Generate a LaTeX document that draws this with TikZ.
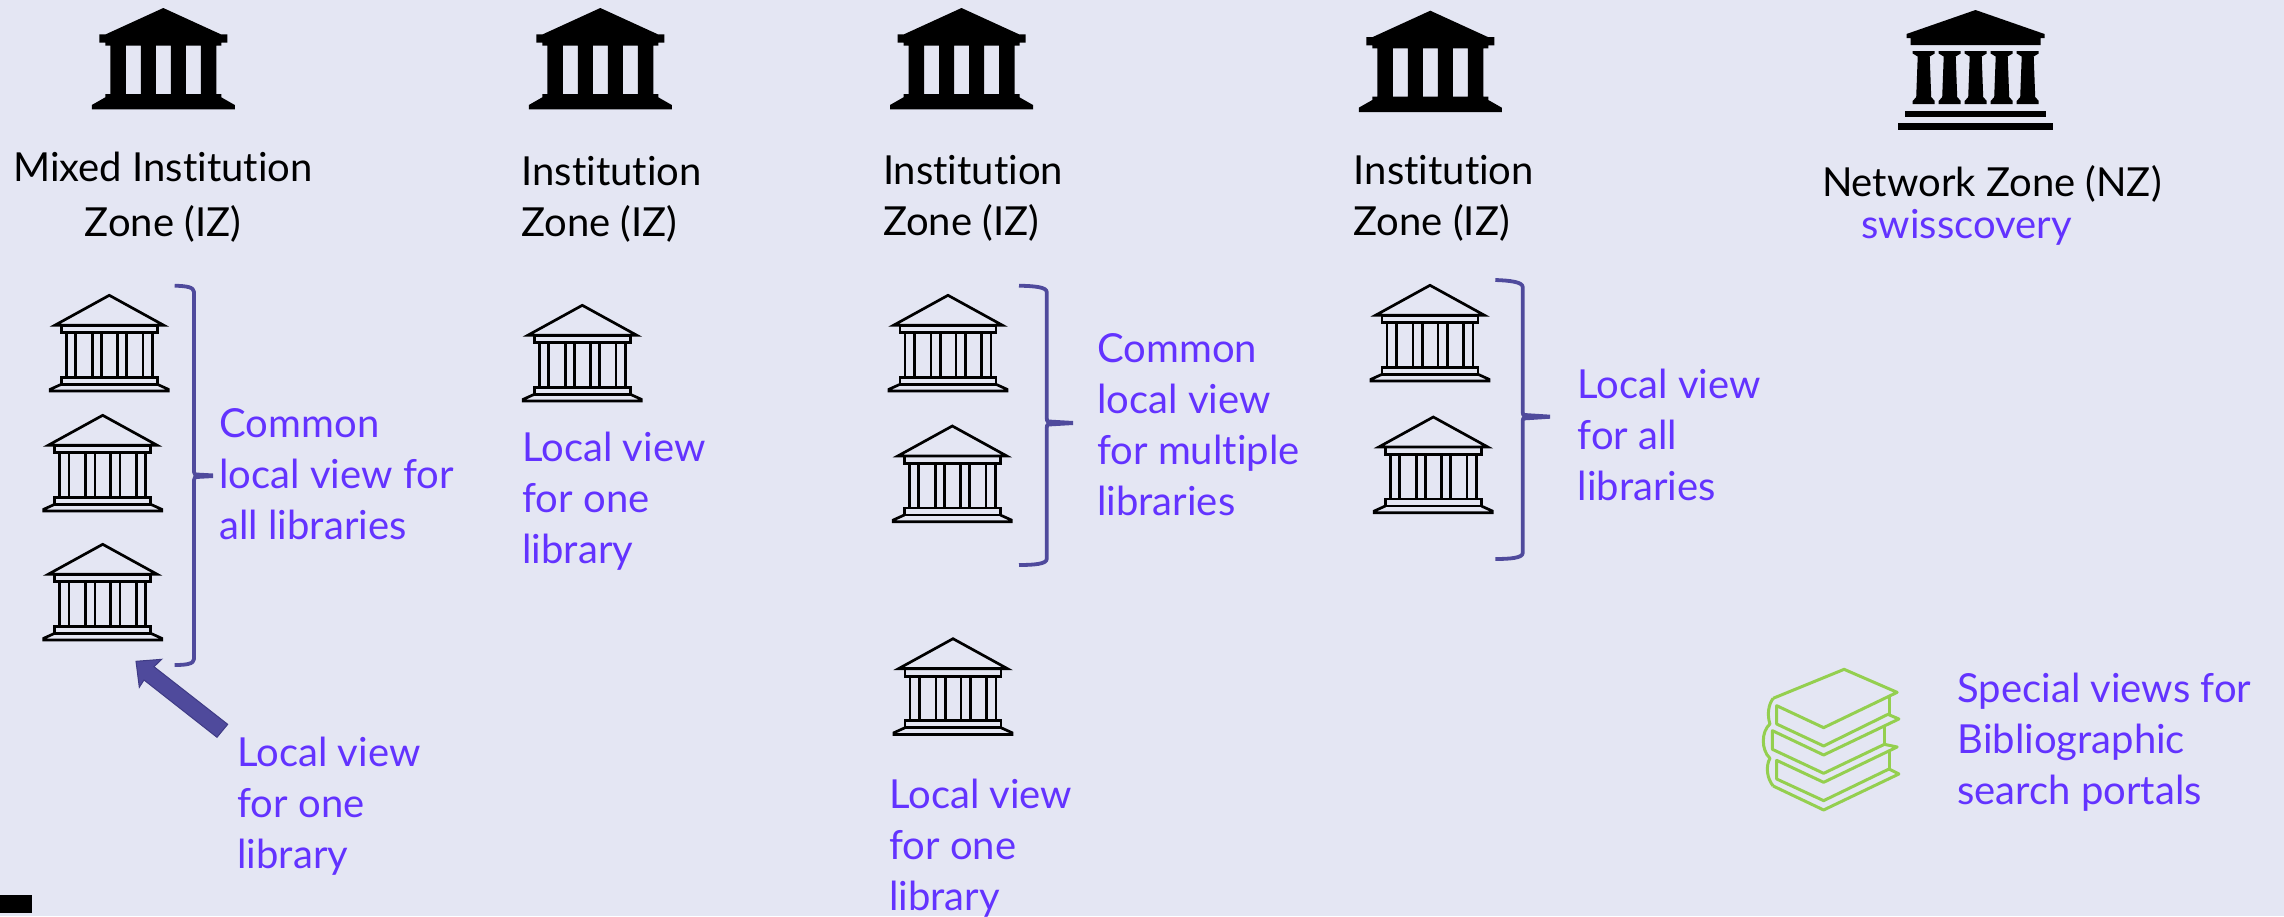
\documentclass[tikz,border=0pt]{standalone}
\usepackage{fontspec}
\setmainfont{Lato}[Ligatures=NoCommon]
\definecolor{bgc}{HTML}{E4E6F3}
\definecolor{purp}{HTML}{6333FF}
\definecolor{brc}{HTML}{4F4A9C}
\definecolor{brd}{HTML}{3F3B85}
\definecolor{grn}{HTML}{94CF4F}
\newcommand\txtstack[1]{\begin{tabular}[t]{@{}l@{}}#1\end{tabular}}
\newcommand\ctrstack[1]{\begin{tabular}[t]{@{}c@{}}#1\end{tabular}}
\tikzset{
 lbl/.style={inner sep=0pt,outer sep=0pt,anchor=base west,font=\fontsize{40}{51}\selectfont,text=black},
 view/.style={lbl,text=purp},
 brace line/.style={draw=brc,line width=3.8pt,line join=round},
 brace tick/.style={fill=brc},
 outline bank/.pic={
  \begin{scope}[yshift=-1pt,draw=black,line width=2.7pt,line join=miter]
   \draw (-54.5,30) -- (0,0) -- (54.5,30) -- cycle;
   \draw (-48,30) rectangle (48,37.5);
   \foreach \cx in {-43,-33.7,-17,-7.7,8,17.3,33.7,43}{\draw (\cx,37.5) -- (\cx,82);}
   \draw (-48,82) rectangle (48,89);
   \draw (-48,89) -- (-59,94) -- (-59,95.7) -- (59,95.7) -- (59,94) -- (48,89);
  \end{scope}
 },
 solid bank/.pic={
  \fill[black,even odd rule]
   (0,0) -- (57.5,26.3) -- (64,26.3) -- (64,34.7) -- (58,34.7) -- (58,37.7) -- (53,37.7)
   -- (53,86) -- (58,86) -- (58,89.3) -- (71.5,97) -- (71.5,101.3) -- (-71.5,101.3) -- (-71.5,97)
   -- (-58,89.3) -- (-58,86) -- (-53,86) -- (-53,37.7) -- (-58,37.7) -- (-58,34.7) -- (-64,34.7)
   -- (-64,26.3) -- (-57.5,26.3) -- cycle
   (-37.5,37.7) rectangle (-22.5,86)
   (-7.5,37.7) rectangle (7.5,86)
   (22.5,37.7) rectangle (37.5,86);
 },
 nz column/.pic={
  \fill[black] (-11,0) -- (11,0) -- (11,2.5) -- (6,5.5) -- (7.5,46) -- (11,50) -- (11,53)
   -- (-11,53) -- (-11,50) -- (-7.5,46) -- (-6,5.5) -- (-11,2.5) -- cycle;
 },
}
\begin{document}
\begin{tikzpicture}[x=1pt,y=-1pt]
\useasboundingbox (0,0) rectangle (2284,916);
\fill[bgc] (0,0) rectangle (2284,916);
\fill[black] (0,895) rectangle (31.7,912.7);

% solid institution icons
\pic at (163.3,8) {solid bank};
\pic at (600.3,8) {solid bank};
\pic at (961.5,8) {solid bank};
\pic at (1430.3,10.7) {solid bank};

% network zone icon
\fill[black] (1975.5,10) -- (2044.5,34) -- (2044.5,38) -- (2040.5,38) -- (2040.5,45)
  -- (1910.5,45) -- (1910.5,38) -- (1906.5,38) -- (1906.5,34) -- cycle;
\foreach \cx in {1923.7,1949.7,1975.7,2001.7,2027.7}{\pic at (\cx,51) {nz column};}
\fill[black] (1905,110.7) rectangle (2046,117);
\fill[black] (1897.7,123.3) rectangle (2053.3,129.7);

% outline library icons
\pic at (109.3,294.3) {outline bank};
\pic at (102.7,414.3) {outline bank};
\pic at (102.7,543.3) {outline bank};
\pic at (582.3,304.3) {outline bank};
\pic at (948,294.3) {outline bank};
\pic at (952.3,425) {outline bank};
\pic at (953,637.7) {outline bank};
\pic at (1430,284.3) {outline bank};
\pic at (1433.3,416) {outline bank};

% zone labels
\node[lbl,anchor=base] (zmixed) at (163,181) {\ctrstack{Mixed Institution\\[4.7pt]Zone (IZ)}};
\node[lbl] (z2) at (521.5,185.5) {\txtstack{Institution\\Zone (IZ)}};
\node[lbl] (z3) at (883,184) {\txtstack{Institution\\Zone (IZ)}};
\node[lbl] (z4) at (1353.8,184.3) {\txtstack{Institution\\Zone (IZ)}};
\node[lbl] (nz) at (1822,196) {Network Zone (NZ)};
\node[view] (sw) at (1861.5,238.7) {swisscovery};

% view labels
\node[view] (v1) at (219.5,437) {\txtstack{Common\\local view for\\all libraries}};
\node[view] (v2) at (237.5,766.3) {\txtstack{Local view\\for one\\library}};
\node[view] (v3) at (522.5,461.3) {\txtstack{Local view\\for one\\library}};
\node[view] (v4) at (1097.2,362) {\txtstack{Common\\local view\\for multiple\\libraries}};
\node[view] (v5) at (889.2,808.6) {\txtstack{Local view\\for one\\library}};
\node[view] (v6) at (1577.8,398.6) {\txtstack{Local view\\for all\\libraries}};
\node[view] (v7) at (1957.5,702.3) {\txtstack{Special views for\\Bibliographic\\search portals}};

% braces
\draw[brace line] (174.7,285.7) .. controls (186,286) and (194,287) .. (194,292) -- (194,472)
  .. controls (194,475) and (196,475.7) .. (198,475.7) .. controls (196,475.7) and (194,477) .. (194,480)
  -- (194,659) .. controls (194,664) and (186,665) .. (174.7,665);
\fill[brace tick] (195,472.5) -- (213,473.5) -- (213,478) -- (195,479) -- cycle;
\draw[brace line] (1019,285.7) .. controls (1034,286) and (1046.7,287) .. (1046.7,292) -- (1046.7,418)
  .. controls (1046.7,422) and (1049,423) .. (1052,423) .. controls (1049,423) and (1046.7,424) .. (1046.7,428)
  -- (1046.7,559) .. controls (1046.7,564) and (1034,565) .. (1019,565);
\fill[brace tick] (1047.5,419.5) -- (1073,421) -- (1073,425) -- (1047.5,426.5) -- cycle;
\draw[brace line] (1495.3,280) .. controls (1510,280.5) and (1522.7,282) .. (1522.7,287) -- (1522.7,412)
  .. controls (1522.7,416) and (1525,416.7) .. (1528,416.7) .. controls (1525,416.7) and (1522.7,417.5) .. (1522.7,421)
  -- (1522.7,553) .. controls (1522.7,558) and (1510,559) .. (1495.3,559);
\fill[brace tick] (1523.5,413) -- (1550,414.7) -- (1550,418.7) -- (1523.5,420.4) -- cycle;

% block arrow
\filldraw[fill=brc,draw=brd,line width=1pt,line join=miter] (136,661.3) -- (161.7,659.3) -- (154,666.7)
  -- (227.7,724.3) -- (217,737.3) -- (144,680) -- (139.3,687.3) -- cycle;

% books
\begin{scope}[shift={(1730,650)},x=0.3533pt,y=-0.3333pt,draw=grn,line width=3pt,line join=round]
 \draw (122,145) -- (323,58) -- (473,127) -- (265,233) -- (132,167) -- (132,222) -- (265,288)
  -- (447,193) -- (478,207) -- (265,315) -- (120,242) -- (120,298) -- (265,370) -- (437,283)
  -- (473,291) -- (265,397) -- (132,331) -- (132,387) -- (265,452) -- (450,357) -- (478,372)
  -- (265,480) -- (122,408);
 \draw (122,145) .. controls (108,165) and (105,195) .. (113,222)
  .. controls (88,245) and (88,300) .. (113,325)
  .. controls (100,350) and (105,385) .. (122,408);
 \draw (450,135) -- (450,193);
 \draw (437,228) -- (437,283);
 \draw (450,300) -- (450,357);
\end{scope}
\end{tikzpicture}
\end{document}
